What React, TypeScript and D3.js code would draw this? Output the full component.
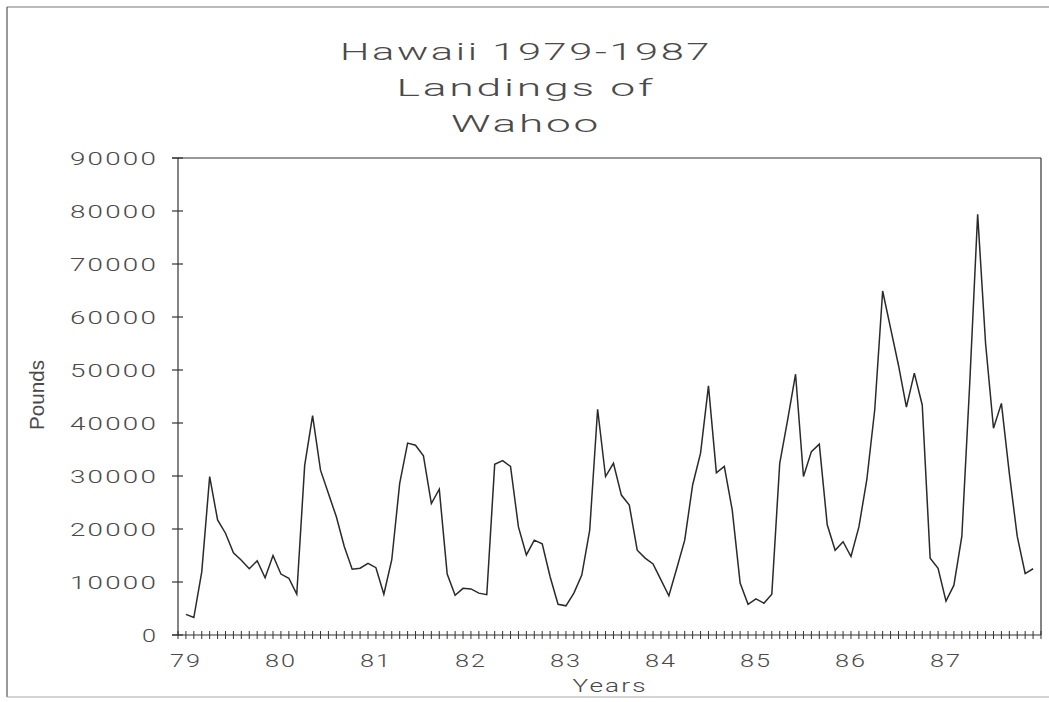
import React from "react";
import * as d3 from "d3";

const titleLines = ["Hawaii 1979-1987", "Landings of", "Wahoo"];
const yearLabels = ["79", "80", "81", "82", "83", "84", "85", "86", "87"];
const yTicks = [0, 10000, 20000, 30000, 40000, 50000, 60000, 70000, 80000, 90000];
// Monthly landings (pounds), Jan 1979 - Dec 1987
const pounds = [
  3900, 3300, 11900, 29900, 21700, 19200, 15500, 14100, 12500, 14000, 10800, 15000,
  11500, 10700, 7700, 32000, 41400, 31100, 26700, 22300, 16700, 12400, 12600, 13500,
  12700, 7700, 14200, 28600, 36200, 35800, 33800, 24800, 27500, 11500, 7500, 8800,
  8700, 7900, 7600, 32200, 32900, 31800, 20400, 15100, 17900, 17200, 11000, 5800,
  5500, 7900, 11300, 19800, 42600, 29900, 32400, 26400, 24500, 16000, 14500, 13400,
  10400, 7400, 12600, 17900, 28300, 34300, 47000, 30600, 31800, 23600, 9800, 5800,
  6800, 6000, 7700, 32400, 40600, 49200, 29900, 34600, 36000, 20800, 16000, 17600,
  14800, 20400, 29300, 42500, 64900, 57900, 50900, 43000, 49400, 43400, 14500, 12600,
  6400, 9400, 18600, 47500, 79400, 55000, 39000, 43700, 30500, 18600, 11600, 12500,
];

const W = 1049;
const H = 702;
const left = 178;
const right = 1041;
const top = 158;
const bottom = 635;

export default function App() {
  const x = d3.scaleLinear().domain([0, 109]).range([left, right]);
  const y = d3.scaleLinear().domain([0, 90000]).range([bottom, top]);
  const line = d3
    .line<number>()
    .x((_, i) => x(i + 1))
    .y((d) => y(d));
  const monthTicks = d3.range(0, 110);
  const hershey = "Roboto, 'DejaVu Sans', sans-serif";
  const txt = "#4a4a4a";
  const titleWidths = [372, 259, 150];
  const common = {
    fontFamily: hershey,
    fontWeight: 300,
    fill: txt,
    lengthAdjust: "spacingAndGlyphs" as const,
    letterSpacing: 1.5,
  };
  return (
    <div style={{ position: "absolute", left: 0, top: 0 }}>
      <svg width={W} height={H} style={{ display: "block", background: "#fff" }}>
        {/* page border */}
        <line x1={7} y1={7} x2={W} y2={7} stroke="#777" strokeWidth={1.2} />
        <line x1={7} y1={7} x2={7} y2={697} stroke="#555" strokeWidth={1.2} />
        <line x1={7} y1={697} x2={W} y2={697} stroke="#aaa" strokeWidth={1.2} />

        {titleLines.map((t, i) => (
          <text
            key={t}
            x={526}
            y={60 + i * 36}
            textAnchor="middle"
            fontSize={24}
            textLength={titleWidths[i]}
            {...common}
          >
            {t}
          </text>
        ))}

        {/* plot frame */}
        <line x1={left - 6} y1={top} x2={right} y2={top} stroke="#333" strokeWidth={1.2} />
        <line x1={right} y1={top} x2={right} y2={bottom} stroke="#333" strokeWidth={1.2} />
        <line x1={left} y1={top} x2={left} y2={bottom} stroke="#333" strokeWidth={1.2} />
        <line x1={left - 6} y1={bottom} x2={right} y2={bottom} stroke="#333" strokeWidth={1.2} />

        {yTicks.map((v) => (
          <g key={v}>
            <line x1={left - 6} x2={left + 5} y1={y(v)} y2={y(v)} stroke="#333" strokeWidth={1.2} />
            <text
              x={158}
              y={y(v)}
              dy="0.36em"
              textAnchor="end"
              fontSize={19}
              textLength={String(v).length * 18 - 2}
              {...common}
            >
              {v}
            </text>
          </g>
        ))}

        {monthTicks.map((k) => (
          <line key={k} x1={x(k)} x2={x(k)} y1={bottom - 4} y2={bottom + 4} stroke="#333" strokeWidth={1} />
        ))}

        {yearLabels.map((lab, i) => (
          <text
            key={lab}
            x={x(1 + i * 12)}
            y={667}
            textAnchor="middle"
            fontSize={19}
            textLength={32}
            {...common}
          >
            {lab}
          </text>
        ))}

        <text x={610} y={692} textAnchor="middle" fontSize={19} textLength={75} {...common}>
          Years
        </text>

        <text
          transform="translate(44,395) rotate(-90)"
          textAnchor="middle"
          fontFamily="'Liberation Sans', Arial, sans-serif"
          fontSize={20}
          fill={txt}
          textLength={70}
          lengthAdjust="spacingAndGlyphs"
        >
          Pounds
        </text>

        <path d={line(pounds) ?? ""} fill="none" stroke="#2a2a2a" strokeWidth={1.5} strokeLinejoin="miter" />
      </svg>
    </div>
  );
}
